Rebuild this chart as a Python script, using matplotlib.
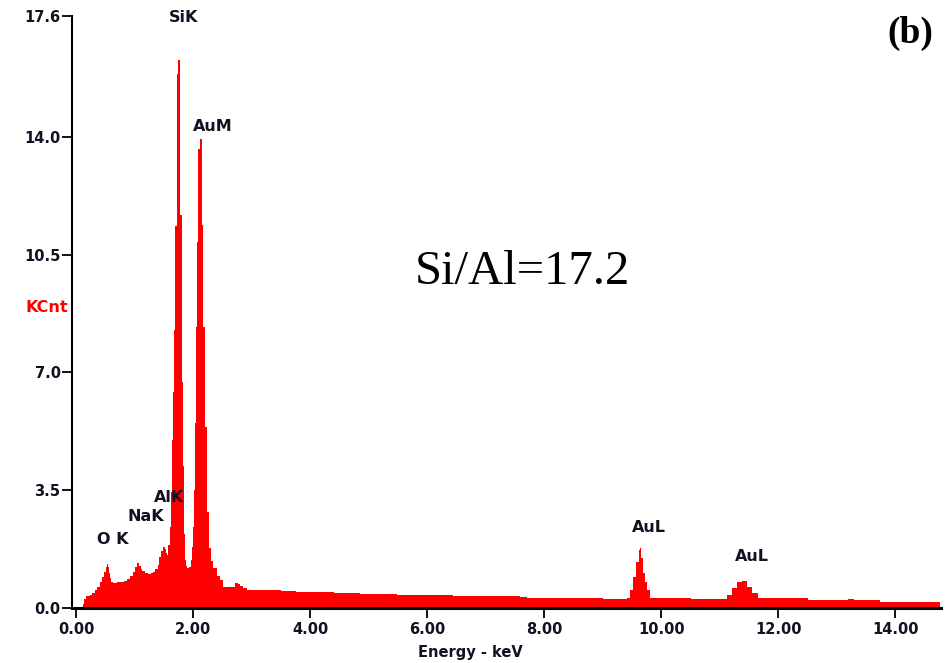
import matplotlib
matplotlib.use("Agg")
import matplotlib.pyplot as plt

# EDS spectrum (energy keV, counts kCnt), step-post
energy = [0.10, 0.12, 0.14, 0.17, 0.23, 0.27, 0.32, 0.36, 0.40, 0.44, 0.47, 0.50, 0.52,
          0.54, 0.56, 0.58, 0.60, 0.62, 0.70, 0.76, 0.82, 0.86, 0.92, 0.97, 1.01, 1.04,
          1.07, 1.10, 1.13, 1.17, 1.22, 1.27, 1.31, 1.35, 1.39, 1.42, 1.45, 1.48, 1.51,
          1.53, 1.55, 1.57, 1.60, 1.614, 1.63, 1.648, 1.67, 1.687, 1.716, 1.744, 1.774,
          1.802, 1.82, 1.84, 1.86, 1.88, 1.90, 1.93, 1.96, 1.98, 2.00, 2.017, 2.03,
          2.045, 2.058, 2.085, 2.115, 2.144, 2.171, 2.20, 2.239, 2.27, 2.30, 2.34, 2.40,
          2.456, 2.50, 2.70, 2.72, 2.76, 2.80, 2.85, 2.91, 3.20, 3.50, 3.75, 4.00, 4.40,
          4.85, 5.20, 5.48, 6.00, 6.44, 7.00, 7.58, 7.70, 8.32, 9.00, 9.41, 9.465, 9.52,
          9.57, 9.61, 9.64, 9.66, 9.69, 9.72, 9.75, 9.81, 10.50, 11.00, 11.12, 11.20,
          11.29, 11.37, 11.46, 11.55, 11.66, 12.50, 13.10, 13.19, 13.30, 13.74, 14.77]
counts = [0.00, 0.10, 0.25, 0.35, 0.38, 0.45, 0.52, 0.62, 0.77, 0.92, 1.05, 1.22, 1.29,
          1.20, 1.03, 0.88, 0.77, 0.74, 0.75, 0.77, 0.80, 0.85, 0.95, 1.05, 1.20, 1.34,
          1.25, 1.15, 1.08, 1.02, 1.00, 1.04, 1.07, 1.15, 1.27, 1.50, 1.68, 1.81, 1.75,
          1.62, 1.57, 1.86, 2.40, 3.45, 5.00, 6.42, 8.25, 11.36, 15.86, 16.30, 11.67,
          6.72, 4.20, 2.20, 1.42, 1.25, 1.18, 1.22, 1.42, 1.80, 2.41, 3.50, 5.50,
          8.35, 10.88, 13.65, 13.95, 11.37, 8.35, 5.38, 2.85, 1.77, 1.40, 1.17, 0.95,
          0.82, 0.62, 0.62, 0.74, 0.70, 0.65, 0.60, 0.53, 0.52, 0.50, 0.48, 0.46, 0.44,
          0.42, 0.40, 0.39, 0.37, 0.36, 0.35, 0.33, 0.28, 0.30, 0.27, 0.28, 0.53, 0.92,
          1.37, 1.71, 1.77, 1.47, 1.02, 0.75, 0.53, 0.28, 0.26, 0.26, 0.38, 0.58,
          0.77, 0.80, 0.62, 0.43, 0.28, 0.23, 0.22, 0.26, 0.24, 0.16, 0.16]

xticks = [0, 2, 4, 6, 8, 10, 12, 14]
xticklabels = ["0.00", "2.00", "4.00", "6.00", "8.00", "10.00", "12.00", "14.00"]
yticks = [0.0, 3.5, 7.0, 10.5, 14.0, 17.6]
yticklabels = ["0.0", "3.5", "7.0", "10.5", "14.0", "17.6"]

peak_labels = ["SiK", "AuM", "AlK", "NaK", "O K", "AuL", "AuL"]
peak_label_x = [1.83, 2.33, 1.59, 1.19, 0.63, 9.79, 11.54]
peak_label_y = [17.55, 14.3, 3.28, 2.7, 2.03, 2.38, 1.53]

fig = plt.figure(figsize=(9.49, 6.63), dpi=100)
ax = fig.add_axes([0.0762, 0.0834, 0.9154, 0.8925])

ax.fill_between(energy, counts, 0, step="post", color="#ff0000", linewidth=0)

ax.set_xlim(-0.068, 14.78)
ax.set_ylim(0, 17.6)
ax.set_xticks(xticks)
ax.set_xticklabels(xticklabels)
ax.set_yticks(yticks)
ax.set_yticklabels(yticklabels)

for s in ["top", "right"]:
    ax.spines[s].set_visible(False)
ax.spines["bottom"].set_linewidth(2.2)
ax.spines["left"].set_linewidth(1.5)
ax.tick_params(axis="x", length=7, width=1.3, pad=3.5, labelsize=10.5)
ax.tick_params(axis="y", length=7, width=1.3, pad=1.5, labelsize=10.5)
for lab in ax.get_xticklabels() + ax.get_yticklabels():
    lab.set_fontweight("bold")
    lab.set_color("#111122")

ax.set_xlabel("Energy - keV", fontsize=10.5, fontweight="bold", color="#111122")
ax.xaxis.set_label_coords(0.458, -0.075)
ax.xaxis.label.set_va("center")

fig.text(47 / 949, 1 - 307 / 663, "KCnt", color="#ff0000", fontsize=11.5,
         fontweight="bold", ha="center", va="center")

for t, x, y in zip(peak_labels, peak_label_x, peak_label_y):
    ax.text(x, y, t, fontsize=11.5, fontweight="bold", color="#111122",
            ha="center", va="center")

ax.text(0.518, 0.567, "Si/Al=17.2", transform=ax.transAxes, fontsize=35,
        family="Liberation Serif", ha="center", va="center")
fig.text(910 / 949, 1 - 33 / 663, "(b)", fontsize=27, fontweight="bold",
         family="Liberation Serif", ha="center", va="center")

fig.savefig("out.png", dpi=100)
